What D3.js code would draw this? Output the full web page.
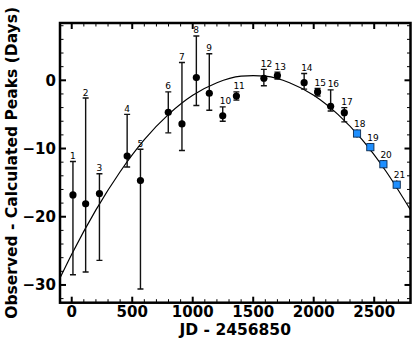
<!DOCTYPE html>
<html>
<head>
<meta charset="utf-8">
<script src="https://cdnjs.cloudflare.com/ajax/libs/d3/7.8.5/d3.min.js"></script>
<style>
  body { margin: 0; background: #fff; }
  svg { display: block; font-family: "DejaVu Sans", sans-serif; }
</style>
</head>
<body>
<div id="chart"></div>
<script>
// measured peaks (circles)
var obsLabel = ["1","2","3","4","5","6","7","8","9","10","11","12","13","14","15","16","17"];
var obsJD = [10, 115, 229, 458, 568, 798, 911, 1030, 1137, 1248, 1361, 1588, 1700, 1921, 2032, 2140, 2253];
var obsOC = [-16.8, -18.1, -16.6, -11.1, -14.7, -4.7, -6.4, 0.4, -1.9, -5.2, -2.3, 0.3, 0.7, -0.35, -1.7, -3.8, -4.75];
var obsHi = [-11.9, -2.6, -13.7, -5.0, -10.1, -1.7, 2.6, 6.5, 3.9, -3.9, -1.7, 1.6, 1.2, 1.0, -1.2, -1.4, -4.0];
var obsLo = [-28.5, -28.1, -26.4, -12.7, -30.6, -7.7, -10.3, -3.7, -4.4, -6.0, -2.9, -0.8, 0.2, -1.3, -2.3, -4.5, -6.1];

// predicted peaks (squares)
var predLabel = ["18","19","20","21"];
var predJD = [2358, 2468, 2576, 2686];
var predOC = [-7.8, -9.8, -12.3, -15.3];
var predErr = [0.6, 0.6, 0.6, 0.6];

// fitted curve
var fitJD = [-100, 0, 200, 400, 600, 800, 1000, 1200, 1400, 1500, 1600, 1800, 2000, 2200, 2400, 2600, 2800];
var fitOC = [-29.1, -25.5, -19.0, -13.4, -8.7, -5.0, -2.2, -0.35, 0.6, 0.7, 0.6, -0.35, -2.2, -5.0, -8.7, -13.4, -19.0];

var xTicks = [0, 500, 1000, 1500, 2000, 2500];
var yTicks = [-30, -20, -10, 0];

var W = 415, H = 342;
var box = { left: 60, right: 410.5, top: 23, bottom: 302.7 };

var svg = d3.select("#chart").append("svg")
    .attr("width", W)
    .attr("height", H);

var x = d3.scaleLinear().domain([-97, 2800]).range([box.left, box.right]);
var y = d3.scaleLinear().domain([-32.6, 8.4]).range([box.bottom, box.top]);

svg.append("clipPath").attr("id", "plotclip")
    .append("rect")
    .attr("x", box.left).attr("y", box.top)
    .attr("width", box.right - box.left).attr("height", box.bottom - box.top);

// ticks (inward, on all four sides)
var xMinor = d3.range(0, 2801, 100).filter(function (v) { return xTicks.indexOf(v) < 0; });
var yMinor = d3.range(-32, 9, 2).filter(function (v) { return yTicks.indexOf(v) < 0; });

var ticks = svg.append("g").attr("stroke", "#000");
xTicks.forEach(function (v) {
    ticks.append("line").attr("x1", x(v)).attr("x2", x(v)).attr("y1", box.bottom).attr("y2", box.bottom - 6).attr("stroke-width", 2);
    ticks.append("line").attr("x1", x(v)).attr("x2", x(v)).attr("y1", box.top).attr("y2", box.top + 6).attr("stroke-width", 2);
});
xMinor.forEach(function (v) {
    ticks.append("line").attr("x1", x(v)).attr("x2", x(v)).attr("y1", box.bottom).attr("y2", box.bottom - 3.5).attr("stroke-width", 1);
    ticks.append("line").attr("x1", x(v)).attr("x2", x(v)).attr("y1", box.top).attr("y2", box.top + 3.5).attr("stroke-width", 1);
});
yTicks.forEach(function (v) {
    ticks.append("line").attr("y1", y(v)).attr("y2", y(v)).attr("x1", box.left).attr("x2", box.left + 6).attr("stroke-width", 2);
    ticks.append("line").attr("y1", y(v)).attr("y2", y(v)).attr("x1", box.right).attr("x2", box.right - 6).attr("stroke-width", 2);
});
yMinor.forEach(function (v) {
    ticks.append("line").attr("y1", y(v)).attr("y2", y(v)).attr("x1", box.left).attr("x2", box.left + 3.5).attr("stroke-width", 1);
    ticks.append("line").attr("y1", y(v)).attr("y2", y(v)).attr("x1", box.right).attr("x2", box.right - 3.5).attr("stroke-width", 1);
});

// tick labels
svg.append("g").selectAll("text").data(xTicks).enter().append("text")
    .attr("x", function (d) { return x(d); })
    .attr("y", 317.3)
    .attr("text-anchor", "middle")
    .style("font-size", "15px").style("font-weight", "bold")
    .text(function (d) { return d; });

svg.append("g").selectAll("text").data(yTicks).enter().append("text")
    .attr("x", 56)
    .attr("y", function (d) { return y(d); })
    .attr("dy", "0.36em")
    .attr("text-anchor", "end")
    .style("font-size", "15px").style("font-weight", "bold")
    .text(function (d) { return d < 0 ? "\u2212" + Math.abs(d) : d; });

// axis titles
svg.append("text")
    .attr("x", (box.left + box.right) / 2)
    .attr("y", 334.5)
    .attr("text-anchor", "middle")
    .style("font-size", "15.5px").style("font-weight", "bold")
    .text("JD - 2456850");

svg.append("text")
    .attr("transform", "rotate(-90)")
    .attr("x", -(box.top + box.bottom) / 2)
    .attr("y", 16.5)
    .attr("text-anchor", "middle")
    .style("font-size", "15.5px").style("font-weight", "bold")
    .text("Observed - Calculated Peaks (Days)");

var plot = svg.append("g").attr("clip-path", "url(#plotclip)");

// fit curve
var line = d3.line()
    .x(function (d, i) { return x(fitJD[i]); })
    .y(function (d, i) { return y(fitOC[i]); })
    .curve(d3.curveMonotoneX);
plot.append("path")
    .datum(fitJD)
    .attr("d", line)
    .attr("fill", "none")
    .attr("stroke", "#000")
    .attr("stroke-width", 1.2);

// error bars
var bars = plot.append("g").attr("stroke", "#111").attr("stroke-width", 1.4);
obsJD.forEach(function (t, i) {
    var cx = x(t);
    bars.append("line").attr("x1", cx).attr("x2", cx).attr("y1", y(obsHi[i])).attr("y2", y(obsLo[i]));
    bars.append("line").attr("x1", cx - 3).attr("x2", cx + 3).attr("y1", y(obsHi[i])).attr("y2", y(obsHi[i]));
    bars.append("line").attr("x1", cx - 3).attr("x2", cx + 3).attr("y1", y(obsLo[i])).attr("y2", y(obsLo[i]));
});
predJD.forEach(function (t, i) {
    var cx = x(t);
    bars.append("line").attr("x1", cx).attr("x2", cx).attr("y1", y(predOC[i] + predErr[i])).attr("y2", y(predOC[i] - predErr[i]));
});

// markers
plot.append("g").selectAll("circle").data(obsJD).enter().append("circle")
    .attr("cx", function (d) { return x(d); })
    .attr("cy", function (d, i) { return y(obsOC[i]); })
    .attr("r", 3.6)
    .attr("fill", "#000");

plot.append("g").selectAll("rect").data(predJD).enter().append("rect")
    .attr("x", function (d) { return x(d) - 3.6; })
    .attr("y", function (d, i) { return y(predOC[i]) - 3.6; })
    .attr("width", 7.2)
    .attr("height", 7.2)
    .attr("fill", "#1e8fff")
    .attr("stroke", "#0a2a50")
    .attr("stroke-width", 0.9);

// point numbers
var labs = svg.append("g").style("font-size", "9px").attr("fill", "#000");
obsJD.forEach(function (t, i) {
    labs.append("text").attr("x", x(t) - 3).attr("y", y(obsHi[i]) - 2.5).text(obsLabel[i]);
});
predJD.forEach(function (t, i) {
    labs.append("text").attr("x", x(t) - 3).attr("y", y(predOC[i] + predErr[i]) - 2.5).text(predLabel[i]);
});

// frame
svg.append("rect")
    .attr("x", box.left).attr("y", box.top)
    .attr("width", box.right - box.left).attr("height", box.bottom - box.top)
    .attr("fill", "none")
    .attr("stroke", "#000")
    .attr("stroke-width", 2.5);
</script>
</body>
</html>
